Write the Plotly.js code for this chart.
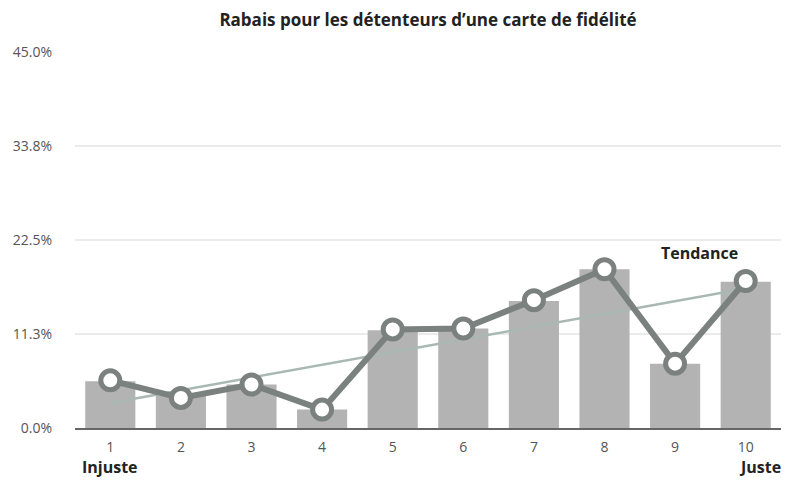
<!DOCTYPE html>
<html>
<head>
<meta charset="utf-8">
<script src="https://cdn.plot.ly/plotly-3.0.1.min.js"></script>
<style>html,body{margin:0;padding:0;background:#fff;}#chart{width:789px;height:483px;}</style>
</head>
<body>
<div id="chart"></div>
<script>
const categories = ["1","2","3","4","5","6","7","8","9","10"];
const barValues = [5.6, 3.9, 5.2, 2.2, 11.7, 11.9, 15.2, 19.0, 7.7, 17.5];
const lineValues = [5.7, 3.6, 5.2, 2.2, 11.8, 11.9, 15.3, 19.0, 7.7, 17.6];
const trendX = ["1", "10"];
const trendValues = [3.0, 16.7];
const yTickVals = [0, 11.25, 22.5, 33.75, 45];
const yTickText = ["0.0%", "11.3%", "22.5%", "33.8%", "45.0%"];
const titleText = "Rabais pour les détenteurs d’une carte de fidélité";

const FONT = "Open Sans, Lato, sans-serif";

const traces = [
  {
    type: "bar", x: categories, y: barValues,
    marker: {color: "#b3b3b3"}, hoverinfo: "skip"
  },
  {
    type: "scatter", mode: "lines", x: trendX, y: trendValues,
    line: {color: "#a9b9b2", width: 2.5}, hoverinfo: "skip"
  },
  {
    type: "scatter", mode: "lines+markers", x: categories, y: lineValues,
    line: {color: "#7a817e", width: 6},
    marker: {size: 19, color: "#ffffff", line: {color: "#7a817e", width: 5}},
    hoverinfo: "skip"
  }
];

const boldFont = {family: FONT, size: 16, color: "#222222", weight: 700};

const layout = {
  width: 789, height: 483,
  margin: {l: 75, r: 8, t: 52, b: 55},
  paper_bgcolor: "#ffffff", plot_bgcolor: "#ffffff",
  showlegend: false,
  bargap: 0.29,
  font: {family: FONT, color: "#555555", size: 13},
  title: {
    text: titleText, x: 0.5, xref: "paper", xanchor: "center",
    y: 0.958, yref: "container", yanchor: "middle",
    font: {family: FONT, size: 17, color: "#222222", weight: 700}
  },
  xaxis: {
    type: "category", showgrid: false, zeroline: false,
    showline: true, linecolor: "#666666", linewidth: 2,
    ticks: "", tickfont: {size: 14, color: "#555555"},
    ticklabelstandoff: 5, range: [-0.5, 9.5]
  },
  yaxis: {
    range: [0, 45], tickvals: yTickVals, ticktext: yTickText,
    showgrid: true, gridcolor: "#ebebeb", gridwidth: 1.5,
    zeroline: false, showline: false, ticks: "",
    tickfont: {size: 14, color: "#555555"},
    ticklabelstandoff: 22
  },
  annotations: [
    {text: "Tendance", x: 8.35, y: 20.9, xref: "x", yref: "y", showarrow: false,
     xanchor: "center", yanchor: "middle", font: boldFont},
    {text: "Injuste", x: 0, y: -0.104, xref: "x", yref: "paper", showarrow: false,
     xanchor: "center", yanchor: "middle", font: boldFont},
    {text: "Juste", x: 9, y: -0.104, xref: "x", yref: "paper", showarrow: false,
     xanchor: "center", xshift: 14, yanchor: "middle", font: boldFont}
  ]
};

Plotly.newPlot("chart", traces, layout, {displayModeBar: false, staticPlot: true});
</script>
</body>
</html>
